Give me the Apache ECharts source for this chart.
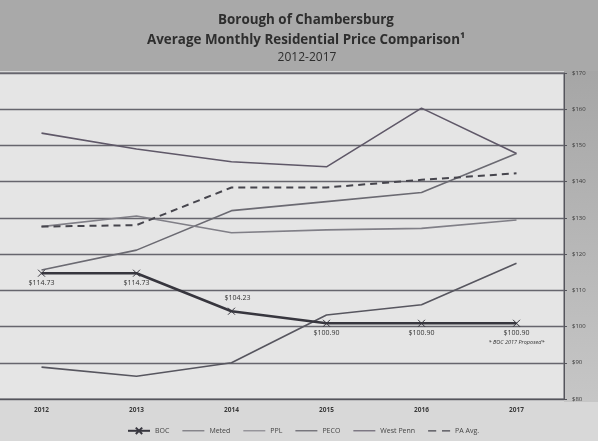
<!DOCTYPE html>
<html>
<head>
<meta charset="utf-8">
<script src="https://cdn.jsdelivr.net/npm/echarts@6/dist/echarts.min.js"></script>
<style>
html,body{margin:0;padding:0;background:#d8d8d8;overflow:hidden;}
#chart{position:absolute;left:-6px;top:0;width:604px;height:441px;}
</style>
</head>
<body>
<div id="chart"></div>
<script>
const categories = ['2012', '2013', '2014', '2015', '2016', '2017'];
const boc = [114.73, 114.73, 104.23, 100.90, 100.90, 100.90];
const meted = [115.6, 121.1, 132.0, 134.5, 137.0, 147.8];
const ppl = [127.6, 130.5, 125.9, 126.7, 127.1, 129.4];
const peco = [88.8, 86.3, 90.0, 103.2, 106.0, 117.5];
const westPenn = [153.4, 149.0, 145.5, 144.1, 160.3, 147.8];
const paAvg = [127.6, 128.0, 138.4, 138.4, 140.5, 142.3];
const bocLabelPos = ['bottom', 'bottom', 'top', 'bottom', 'bottom', 'bottom'];
const bocNote = '* BOC 2017 Proposed*';
const titleLines = ['Borough of Chambersburg', 'Average Monthly Residential Price Comparison¹', '2012-2017'];

const chart = echarts.init(document.getElementById('chart'), null, {renderer: 'canvas'});

const crossPath = 'path://M0,0L10,10M10,0L0,10';
const linePath = 'path://M0,0H20V1H0Z';
const dashPath = 'path://M0,0H7V1H0ZM12,0H19V1H12Z';
const OX = 6; // container shift

const bocData = boc.map((v, i) => ({
  value: v,
  label: {
    position: bocLabelPos[i],
    offset: i === 2 ? [6, -2] : [0, -2],
    formatter: i === boc.length - 1
      ? '$' + v.toFixed(2) + '\n{n|' + bocNote + '}'
      : '$' + v.toFixed(2)
  }
}));

const thin = (name, data, color) => ({
  name, type: 'line', data, symbol: 'none', smooth: false,
  lineStyle: {color, width: 1.6}, itemStyle: {color}, z: 3
});

chart.setOption({
  animation: false,
  backgroundColor: 'transparent',
  graphic: [
    {type: 'rect', z: -10, shape: {x: 0, y: 0, width: 604, height: 71}, style: {fill: '#a9a9a9'}},
    {type: 'rect', z: -10, shape: {x: 564 + OX, y: 71, width: 40, height: 331},
     style: {fill: new echarts.graphic.LinearGradient(0, 0, 0, 1, [
       {offset: 0, color: '#a6a6a6'}, {offset: 1, color: '#c6c6c6'}])}},
    {type: 'text', z: 10, x: 306 + OX, y: 20, style: {text: titleLines[0], align: 'center', verticalAlign: 'middle',
      fontFamily: 'Open Sans', fontWeight: 'bold', fontSize: 13.4, fill: '#2e2e2e'}},
    {type: 'text', z: 10, x: 306 + OX, y: 40, style: {text: titleLines[1], align: 'center', verticalAlign: 'middle',
      fontFamily: 'Open Sans', fontWeight: 'bold', fontSize: 13.4, fill: '#2e2e2e'}},
    {type: 'text', z: 10, x: 307 + OX, y: 58, style: {text: titleLines[2], align: 'center', verticalAlign: 'middle',
      fontFamily: 'Open Sans', fontWeight: 'normal', fontSize: 12, fill: '#2e2e2e'}}
  ],
  grid: {
    left: 0, right: 34, top: 73, bottom: 42,
    show: true, backgroundColor: '#e5e5e5', borderColor: '#55555c', borderWidth: 1
  },
  legend: {
    bottom: 1, left: 122 + OX,
    itemWidth: 22, itemHeight: 8, itemGap: 13,
    textStyle: {fontFamily: 'Open Sans', fontSize: 7, color: '#444'},
    data: [
      {name: 'BOC'},
      {name: 'Meted', icon: linePath},
      {name: 'PPL', icon: linePath},
      {name: 'PECO', icon: linePath},
      {name: 'West Penn', icon: linePath},
      {name: 'PA Avg.', icon: dashPath}
    ]
  },
  xAxis: {
    type: 'category', data: categories, boundaryGap: true,
    axisLine: {show: true, lineStyle: {color: '#55555c', width: 1.2}},
    axisTick: {show: false},
    axisLabel: {fontFamily: 'Open Sans', fontWeight: 'bold', fontSize: 6.5, color: '#3a3a3a', margin: 8},
    splitLine: {show: false}
  },
  yAxis: {
    type: 'value', position: 'right', min: 80, max: 170, interval: 10,
    axisLine: {show: true, lineStyle: {color: '#55555c', width: 1}},
    axisTick: {show: true, length: 3, lineStyle: {color: '#55555c'}},
    axisLabel: {fontFamily: 'Open Sans', fontSize: 6, color: '#3a3a3a', margin: 8, formatter: v => '$' + v},
    splitLine: {show: true, lineStyle: {color: '#66656d', width: 1.3}}
  },
  series: [
    {
      name: 'BOC', type: 'line', data: bocData,
      symbol: crossPath, symbolSize: 7,
      lineStyle: {color: '#37363e', width: 2.6},
      itemStyle: {color: '#37363e', borderColor: '#37363e', borderWidth: 1},
      z: 5,
      label: {
        show: true, fontFamily: 'Open Sans', fontSize: 7, color: '#333', distance: 4,
        rich: {n: {fontFamily: 'Open Sans', fontStyle: 'italic', fontSize: 5.5, color: '#333', padding: [3, 0, 0, 0]}}
      }
    },
    thin('Meted', meted, '#6b6a72'),
    thin('PPL', ppl, '#807f87'),
    thin('PECO', peco, '#57565f'),
    thin('West Penn', westPenn, '#5f5868'),
    {
      name: 'PA Avg.', type: 'line', data: paAvg, symbol: 'none',
      lineStyle: {color: '#46454d', width: 2, type: [7, 5]},
      itemStyle: {color: '#46454d'}, z: 4
    }
  ]
});
</script>
</body>
</html>
